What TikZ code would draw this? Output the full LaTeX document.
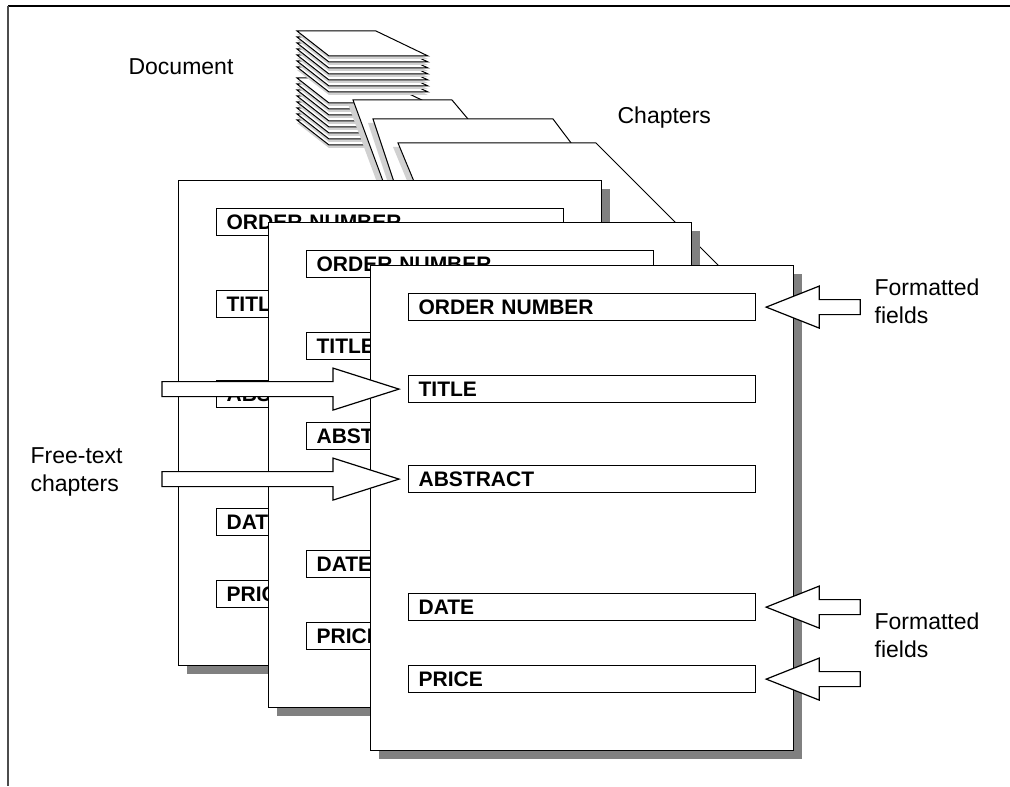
\documentclass[tikz,border=0pt]{standalone}
\usepackage{fontspec}
\setmainfont{Liberation Sans}
\usetikzlibrary{positioning,calc,shadows}
\definecolor{shadowgray}{gray}{0.5}
\definecolor{edgegray}{gray}{0.82}

% block arrow: #1 tip, #2 total length, #3 head length, #4 direction (1 right, -1 left)
\newcommand\fatarrow[4]{%
  \draw[fatarr] #1 -- ++({-(#4)*#3},-21) -- ++(0,13.5) -- ++({-(#4)*(#2-#3)},0)
    -- ++(0,15) -- ++({(#4)*(#2-#3)},0) -- ++(0,13.5) -- cycle;}

\begin{document}
\begin{tikzpicture}[
  x=0.5pt, y=-0.5pt,
  line width=0.6pt,
  page/.style={draw, fill=white, anchor=north west, inner sep=0pt,
    minimum width=211.5pt, minimum height=242.5pt,
    drop shadow={shadow xshift=4pt, shadow yshift=-4pt, opacity=1, fill=shadowgray}},
  field/.style={draw, fill=white, inner xsep=5pt, inner ysep=0pt,
    minimum width=173.5pt, minimum height=13.5pt, text width=163.5pt, align=left,
    font=\fontsize{10.5}{12}\selectfont\bfseries},
  lbl/.style={align=left, anchor=west, inner sep=0pt,
    font=\fontsize{11.5}{14}\selectfont},
  sheet/.style={draw, fill=white, line width=0.5pt},
  fatarr/.style={draw, fill=white, line join=miter}
]
  \useasboundingbox (0,0) rectangle (1010,786);

  % frame
  \draw[line width=1pt] (8,6) -- (1010,6);
  \draw[line width=1pt, black!70] (8,6) -- (8,786);

  % document: two stacks of sheets
  \foreach \k in {7,...,0} {
    \fill[edgegray] (297,{81+6*\k}) -- ++(79,0) -- ++(52,25) -- ++(-99,0) -- cycle;
    \draw[sheet] (297,{78+6*\k}) -- ++(79,0) -- ++(52,25) -- ++(-99,0) -- cycle;
  }
  \foreach \k in {6,...,0} {
    \fill[edgegray] (297,{34+6*\k}) -- ++(79,0) -- ++(52,25) -- ++(-99,0) -- cycle;
    \draw[sheet] (297,{31+6*\k}) -- ++(79,0) -- ++(52,25) -- ++(-99,0) -- cycle;
  }

  % chapters
  \fill[edgegray, shift={(-5,4)}] (353,100) -- (452,100) -- (536,200) -- (390,200) -- cycle;
  \draw[sheet] (353,100) -- (452,100) -- (536,200) -- (390,200) -- cycle;
  \fill[edgegray, shift={(-5,4)}] (373,119) -- (553,119) -- (614,200) -- (400,200) -- cycle;
  \draw[sheet] (373,119) -- (553,119) -- (614,200) -- (400,200) -- cycle;
  \fill[edgegray, shift={(-5,4)}] (398,143) -- (596,143) -- (733,280) -- (455,280) -- cycle;
  \draw[sheet] (398,143) -- (596,143) -- (733,280) -- (455,280) -- cycle;

  % pages with their fields
  \foreach \p/\x/\y in {1/178/180, 2/268/222, 3/370/265} {
    \node[page] (p\p) at (\x,\y) {};
    \node[field, below right=14pt and 19pt of p\p.north west] (order\p) {ORDER NUMBER};
    \node[field, below right=55pt and 19pt of p\p.north west] (title\p) {TITLE};
    \node[field, below right=100pt and 19pt of p\p.north west] (abstract\p) {ABSTRACT};
    \node[field, below right=164pt and 19pt of p\p.north west] (date\p) {DATE};
    \node[field, below right=200pt and 19pt of p\p.north west] (price\p) {PRICE};
  }

  % arrows
  \fatarrow{($(title3.west)+(-9,0)$)}{237}{66}{1}
  \fatarrow{($(abstract3.west)+(-9,0)$)}{237}{66}{1}
  \fatarrow{($(order3.east)+(10,0)$)}{94}{53}{-1}
  \fatarrow{($(date3.east)+(10,0)$)}{94}{53}{-1}
  \fatarrow{($(price3.east)+(10,0)$)}{94}{53}{-1}

  % labels
  \node[lbl] (doc) at (128,67) {Document};
  \node[lbl] (chap) at (617,118) {Chapters};
  \node[lbl] (fmtA) at (874,301) {Formatted\\fields};
  \node[lbl] (fmtB) at (874,635) {Formatted\\fields};
  \node[lbl] (free) at (30,472) {Free-text\\chapters};
\end{tikzpicture}
\end{document}
